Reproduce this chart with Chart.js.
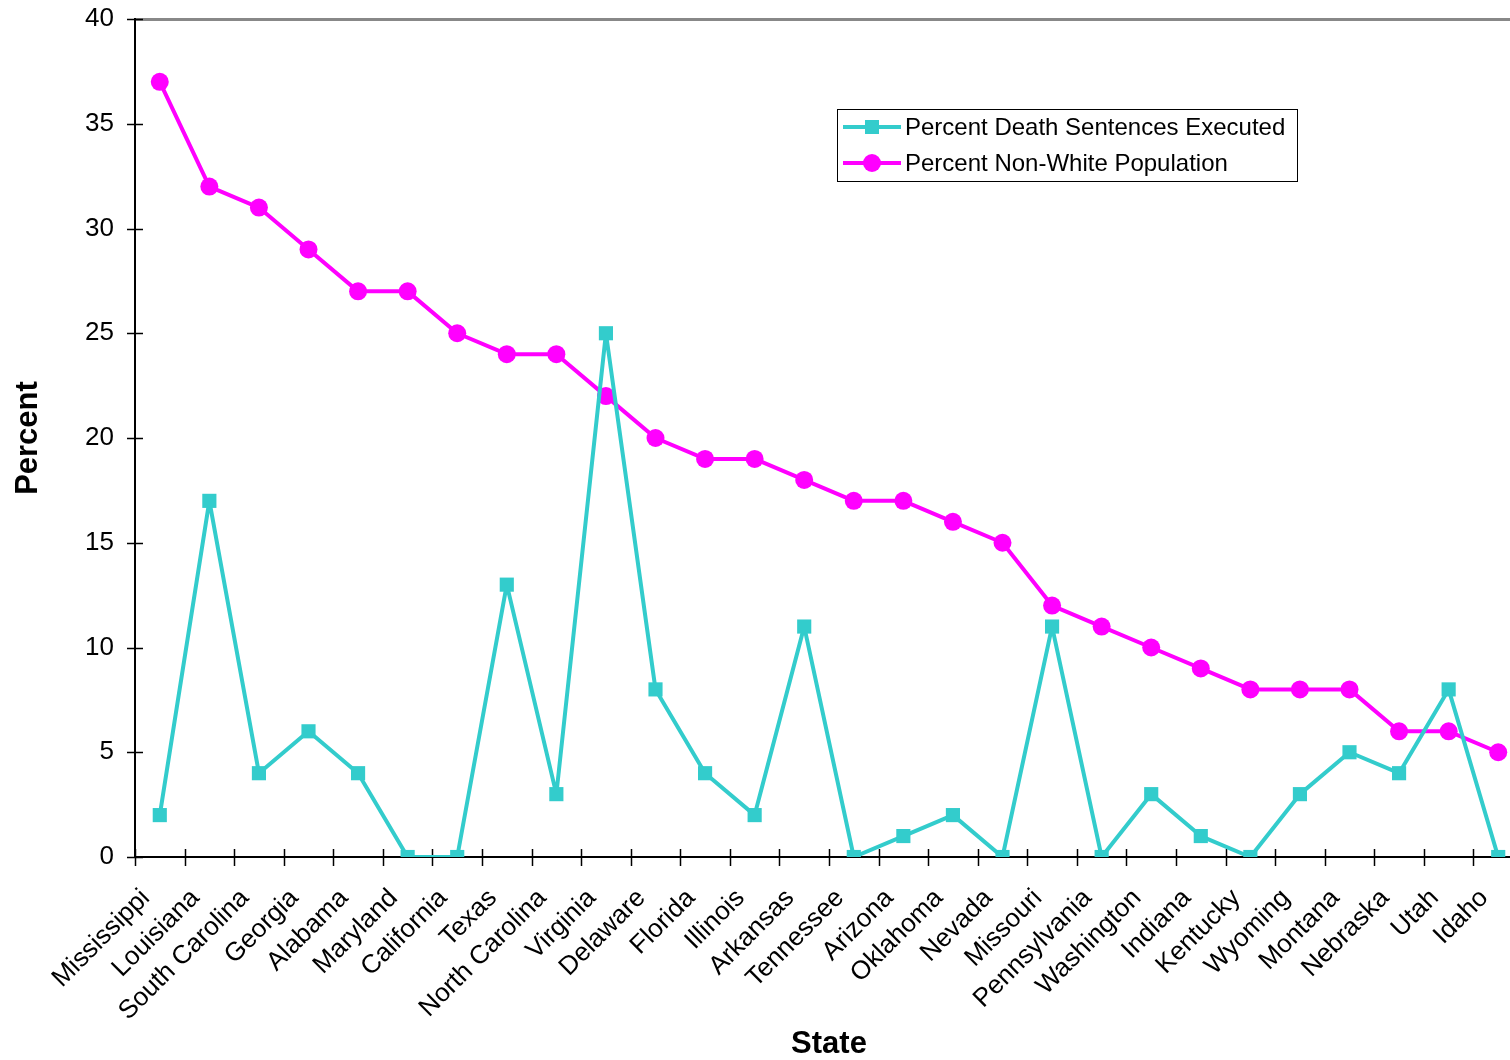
<!DOCTYPE html>
<html lang="en">
  <head>
    <meta charset="UTF-8" />
    <title>Death sentences executed vs non-white population</title>
    <script src="https://cdn.jsdelivr.net/npm/chart.js@4"></script>
    <style>
      body { margin: 0; overflow: hidden; background: #fff; }
      canvas { position: absolute; left: 0; top: 0; }
    </style>
  </head>
  <body>
    <canvas id="myChart" width="1533" height="1060"></canvas>
    <script>
      const states = ['Mississippi', 'Louisiana', 'South Carolina', 'Georgia', 'Alabama', 'Maryland',
        'California', 'Texas', 'North Carolina', 'Virginia', 'Delaware', 'Florida', 'Illinois',
        'Arkansas', 'Tennessee', 'Arizona', 'Oklahoma', 'Nevada', 'Missouri', 'Pennsylvania',
        'Washington', 'Indiana', 'Kentucky', 'Wyoming', 'Montana', 'Nebraska', 'Utah', 'Idaho'];
      const executed = [2, 17, 4, 6, 4, 0, 0, 13, 3, 25, 8, 4, 2, 11, 0, 1, 2, 0, 11, 0, 3, 1, 0, 3, 5, 4, 8, 0];
      const nonWhite = [37, 32, 31, 29, 27, 27, 25, 24, 24, 22, 20, 19, 19, 18, 17, 17, 16, 15, 12, 11, 10, 9, 8, 8, 8, 6, 6, 5];
      const seriesNames = ['Percent Death Sentences Executed', 'Percent Non-White Population'];
      const yTicks = [0, 5, 10, 15, 20, 25, 30, 35, 40];

      const FONT = 'Liberation Sans, Arial, sans-serif';
      const CYAN = '#33CCCC';
      const MAGENTA = '#FF00FF';

      // tick marks that cross the axis lines on both sides
      const crossTicks = {
        id: 'crossTicks',
        beforeDatasetsDraw(chart) {
          const ctx = chart.ctx;
          const x = chart.scales.x, y = chart.scales.y;
          ctx.save();
          ctx.strokeStyle = '#000';
          ctx.lineWidth = 1.5;
          ctx.beginPath();
          yTicks.forEach(v => {
            const py = Math.round(y.getPixelForValue(v)) + 0.5;
            ctx.moveTo(y.right - 8, py);
            ctx.lineTo(y.right + 8, py);
          });
          for (let i = 0; i <= states.length; i++) {
            const px = Math.round(x.getPixelForValue(i - 0.5)) + 0.5;
            ctx.moveTo(px, x.top - 8);
            ctx.lineTo(px, x.top + 9);
          }
          ctx.stroke();
          ctx.restore();
        }
      };

      // boxed legend inside the plot
      const boxLegend = {
        id: 'boxLegend',
        afterDraw(chart) {
          const ctx = chart.ctx;
          const bx = 837, by = 109, bw = 460, bh = 72;
          ctx.save();
          ctx.fillStyle = '#fff';
          ctx.fillRect(bx, by, bw, bh);
          ctx.strokeStyle = '#000';
          ctx.lineWidth = 1;
          ctx.strokeRect(bx + 0.5, by + 0.5, bw, bh);
          chart.data.datasets.forEach((ds, i) => {
            const ly = by + 18 + i * 36;
            ctx.strokeStyle = ds.borderColor;
            ctx.lineWidth = ds.borderWidth;
            ctx.beginPath();
            ctx.moveTo(bx + 6, ly);
            ctx.lineTo(bx + 64, ly);
            ctx.stroke();
            ctx.fillStyle = ds.pointBackgroundColor;
            if (ds.pointStyle === 'rect') {
              ctx.fillRect(bx + 35 - 7, ly - 7, 14, 14);
            } else {
              ctx.beginPath();
              ctx.arc(bx + 35, ly, 9, 0, Math.PI * 2);
              ctx.fill();
            }
            ctx.fillStyle = '#000';
            ctx.font = '24px ' + FONT;
            ctx.textBaseline = 'middle';
            ctx.textAlign = 'left';
            ctx.fillText(ds.label, bx + 68, ly + 1);
          });
          ctx.restore();
        }
      };

      const ctx = document.getElementById('myChart').getContext('2d');
      const myChart = new Chart(ctx, {
        type: 'line',
        data: {
          labels: states,
          datasets: [{
            label: seriesNames[0],
            data: executed,
            borderColor: CYAN,
            backgroundColor: CYAN,
            pointBackgroundColor: CYAN,
            pointBorderColor: CYAN,
            pointStyle: 'rect',
            pointRadius: 10,
            pointBorderWidth: 0,
            borderWidth: 4,
            borderJoinStyle: 'round',
            tension: 0
          }, {
            label: seriesNames[1],
            data: nonWhite,
            borderColor: MAGENTA,
            backgroundColor: MAGENTA,
            pointBackgroundColor: MAGENTA,
            pointBorderColor: MAGENTA,
            pointStyle: 'circle',
            pointRadius: 9,
            pointBorderWidth: 0,
            borderWidth: 4,
            borderJoinStyle: 'round',
            tension: 0
          }]
        },
        options: {
          responsive: false,
          animation: false,
          layout: { padding: { top: 19, left: 0, right: 0, bottom: 0 } },
          plugins: {
            legend: { display: false },
            tooltip: { enabled: false }
          },
          scales: {
            x: {
              offset: true,
              afterFit: s => { s.height = 203; s.paddingLeft = 0; s.paddingRight = 0; },
              grid: { display: false, drawTicks: false },
              border: { display: true, color: '#000', width: 2 },
              ticks: {
                autoSkip: false,
                minRotation: 45,
                maxRotation: 45,
                padding: 26,
                labelOffset: -14,
                color: '#000',
                font: { family: FONT, size: 26 }
              },
              title: {
                display: true,
                text: 'State',
                color: '#000',
                padding: { top: 0, bottom: 0 },
                font: { family: FONT, size: 31, weight: 'bold', lineHeight: 1.0 }
              }
            },
            y: {
              min: 0,
              max: 40,
              afterFit: s => { s.width = 135; s.paddingTop = 0; s.paddingBottom = 0; },
              afterBuildTicks: s => { s.ticks = yTicks.map(v => ({ value: v })); },
              grid: {
                drawTicks: false,
                color: c => (c.tick && c.tick.value === 40 ? '#888' : 'rgba(0,0,0,0)'),
                lineWidth: c => (c.tick && c.tick.value === 40 ? 3 : 0)
              },
              border: { display: true, color: '#000', width: 2 },
              ticks: {
                padding: 21,
                color: '#000',
                font: { family: FONT, size: 26 }
              },
              title: {
                display: true,
                text: 'Percent',
                color: '#000',
                padding: { top: 10, bottom: 0 },
                font: { family: FONT, size: 31, weight: 'bold' }
              }
            }
          }
        },
        plugins: [crossTicks, boxLegend]
      });
    </script>
  </body>
</html>
